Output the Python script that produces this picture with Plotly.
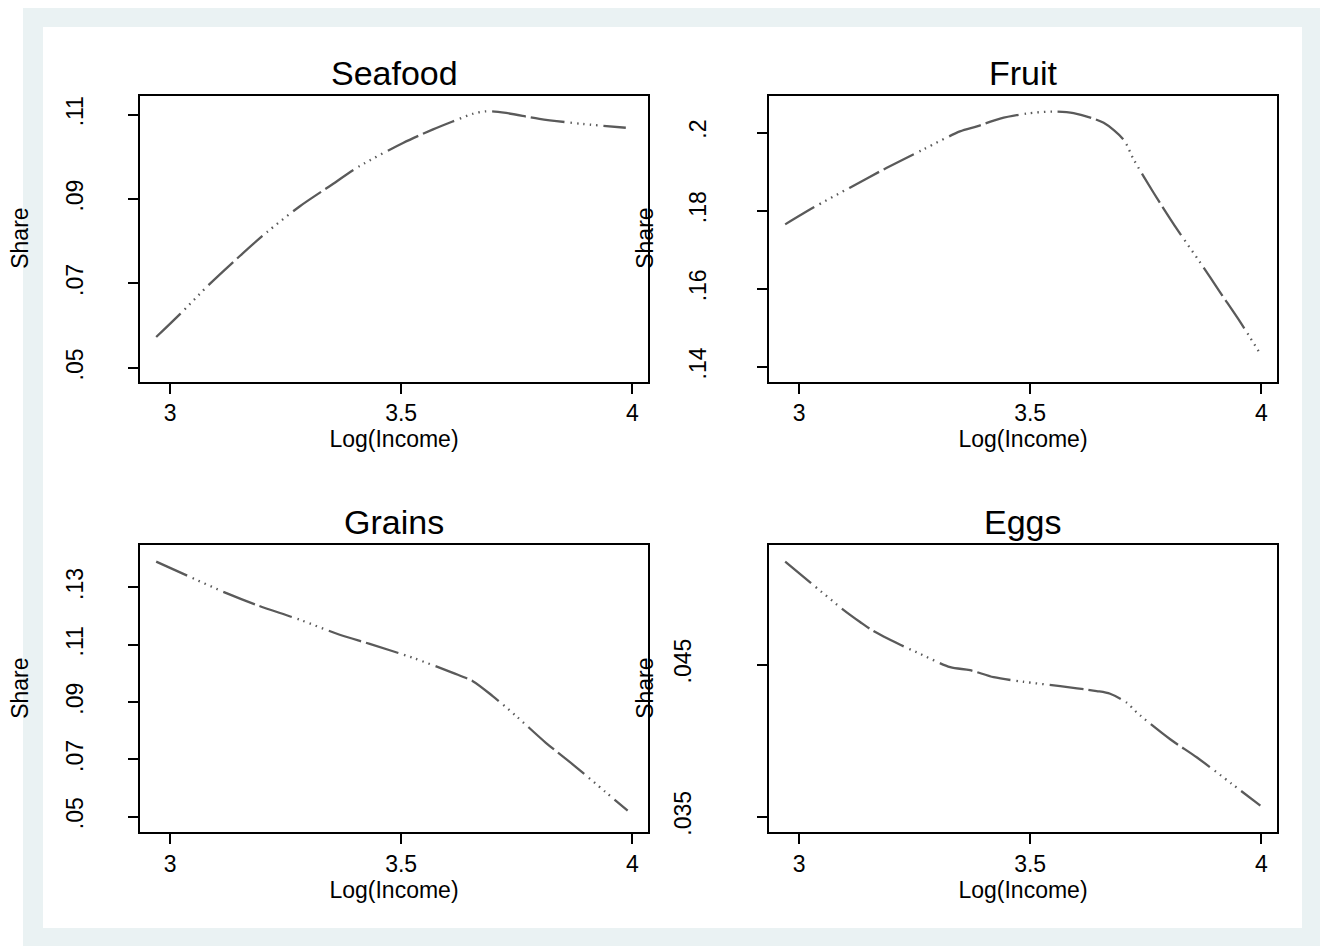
import plotly.graph_objects as go

# ---------------- data ----------------
panel_titles = ["Seafood", "Fruit", "Grains", "Eggs"]

seafood_income = [2.970, 3.022, 3.086, 3.151, 3.209, 3.281, 3.346, 3.410, 3.504,
                  3.569, 3.612, 3.655, 3.684, 3.727, 3.799, 3.893, 3.986]
seafood_share = [.0573, .0628, .0699, .0765, .0821, .0883, .0931, .0978, .1033,
                 .1065, .1084, .1102, .1108, .1104, .1090, .1078, .1069]

fruit_income = [2.970, 3.031, 3.110, 3.190, 3.269, 3.348, 3.385, 3.435, 3.493, 3.550,
                3.594, 3.659, 3.702, 3.724, 3.767, 3.818, 3.868, 3.911, 3.955, 3.998]
fruit_share = [.1765, .1808, .1859, .1910, .1957, .2003, .2016, .2036, .2049, .2054,
               .2050, .2025, .1982, .1931, .1846, .1752, .1667, .1591, .1514, .1433]

grains_income = [2.970, 3.036, 3.122, 3.187, 3.281, 3.367, 3.432, 3.526, 3.612,
                 3.655, 3.698, 3.749, 3.813, 3.871, 3.943, 3.990]
grains_share = [.1390, .1342, .1280, .1239, .1187, .1135, .1103, .1054, .1002,
                .0973, .0921, .0851, .0758, .0683, .0585, .0521]

eggs_income = [2.970, 3.024, 3.096, 3.132, 3.161, 3.219, 3.255, 3.327, 3.370, 3.421,
               3.485, 3.565, 3.644, 3.673, 3.709, 3.731, 3.803, 3.861, 3.937, 3.998]
eggs_share = [.05177, .0504, .0486, .0478, .0472, .0463, .0458, .04483, .04463, .04417,
              .04387, .04358, .04326, .04308, .04249, .04184, .04009, .03889, .03714, .03573]

x_tickvals = [3, 3.5, 4]
x_ticktext = ["3", "3.5", "4"]

seafood_ytickvals = [.05, .07, .09, .11]
seafood_yticktext = [".05", ".07", ".09", ".11"]
fruit_ytickvals = [.14, .16, .18, .2]
fruit_yticktext = [".14", ".16", ".18", ".2"]
grains_ytickvals = [.05, .07, .09, .11, .13]
grains_yticktext = [".05", ".07", ".09", ".11", ".13"]
eggs_ytickvals = [.035, .045]
eggs_yticktext = [".035", ".045"]

x_title = "Log(Income)"
y_title = "Share"

# ---------------- layout geometry ----------------
OFF = 8                      # default page body margin of the html page
W, H = 1328 - OFF, 949 - OFF
FONT = "Liberation Sans, Arial, sans-serif"
LINE_COLOR = "#5a5a5a"
DASH = "34px,6px,1.5px,5px,1.5px,5px,1.5px,5px,1.5px,5px,1.5px,6px,34px,5px"


def px_x(p):
    return (p - OFF) / W


def px_y(p):
    return 1 - (p - OFF) / H


panels = [
    dict(income=seafood_income, share=seafood_share, yv=seafood_ytickvals, yt=seafood_yticktext,
         yr=[.04669, .11449], x0=140, x1=648, y0=96, y1=383, stand=36),
    dict(income=fruit_income, share=fruit_share, yv=fruit_ytickvals, yt=fruit_yticktext,
         yr=[.13617, .20945], x0=769, x1=1277, y0=96, y1=383, stand=42),
    dict(income=grains_income, share=grains_share, yv=grains_ytickvals, yt=grains_yticktext,
         yr=[.04454, .14471], x0=140, x1=648, y0=547, y1=835, stand=36),
    dict(income=eggs_income, share=eggs_share, yv=eggs_ytickvals, yt=eggs_yticktext,
         yr=[.03397, .05284], x0=769, x1=1277, y0=547, y1=835, stand=57),
]

fig = go.Figure()
layout = dict(
    width=W, height=H, autosize=False,
    margin=dict(l=0, r=0, t=0, b=0, pad=0),
    paper_bgcolor="white", plot_bgcolor="white",
    showlegend=False,
    font=dict(family=FONT, size=23, color="black"),
    shapes=[], annotations=[],
)

for i, p in enumerate(panels):
    n = "" if i == 0 else str(i + 1)
    fig.add_trace(go.Scatter(
        x=p["income"], y=p["share"], mode="lines",
        line=dict(color=LINE_COLOR, width=2.3, dash=DASH, shape="spline", smoothing=0.8),
        xaxis="x" + n, yaxis="y" + n, hoverinfo="skip",
    ))
    layout["xaxis" + n] = dict(
        domain=[px_x(p["x0"]), px_x(p["x1"])], anchor="y" + n,
        range=[2.935, 4.034], tickvals=x_tickvals, ticktext=x_ticktext,
        ticks="outside", ticklen=10, tickwidth=1.5, tickcolor="black",
        showline=True, linecolor="black", linewidth=2, mirror=True,
        showgrid=False, zeroline=False, fixedrange=True,
        tickfont=dict(size=23), ticklabelstandoff=0,
        title=dict(text=x_title, font=dict(size=23), standoff=0),
    )
    layout["yaxis" + n] = dict(
        domain=[px_y(p["y1"]), px_y(p["y0"])], anchor="x" + n,
        range=p["yr"], tickvals=p["yv"], ticktext=p["yt"], tickangle=-90,
        ticks="outside", ticklen=10, tickwidth=1.5, tickcolor="black",
        showline=True, linecolor="black", linewidth=2, mirror=True,
        showgrid=False, zeroline=False, fixedrange=True,
        tickfont=dict(size=23), ticklabelstandoff=p["stand"],
    )
    # panel title
    layout["annotations"].append(dict(
        text=panel_titles[i], xref="paper", yref="paper",
        x=px_x((p["x0"] + p["x1"]) / 2), y=px_y(p["y0"] - 23),
        xanchor="center", yanchor="middle", showarrow=False,
        font=dict(size=34, family=FONT, color="black"),
    ))
    # y axis title
    share_x = 20 if p["x0"] < 400 else 645
    layout["annotations"].append(dict(
        text=y_title, xref="paper", yref="paper",
        x=px_x(share_x), y=px_y((p["y0"] + p["y1"]) / 2),
        xanchor="center", yanchor="middle", showarrow=False, textangle=-90,
        font=dict(size=23, family=FONT, color="black"),
    ))

# background frames (Stata-like outer region)
layout["shapes"] = [
    dict(type="rect", xref="paper", yref="paper", layer="below",
         x0=px_x(23), x1=px_x(1328), y0=px_y(949), y1=px_y(8),
         fillcolor="#EAF2F3", line=dict(width=0)),
    dict(type="rect", xref="paper", yref="paper", layer="below",
         x0=px_x(43), x1=px_x(1302), y0=px_y(931), y1=px_y(27),
         fillcolor="white", line=dict(width=0)),
]

fig.update_layout(**layout)
fig.write_html("out.html")
